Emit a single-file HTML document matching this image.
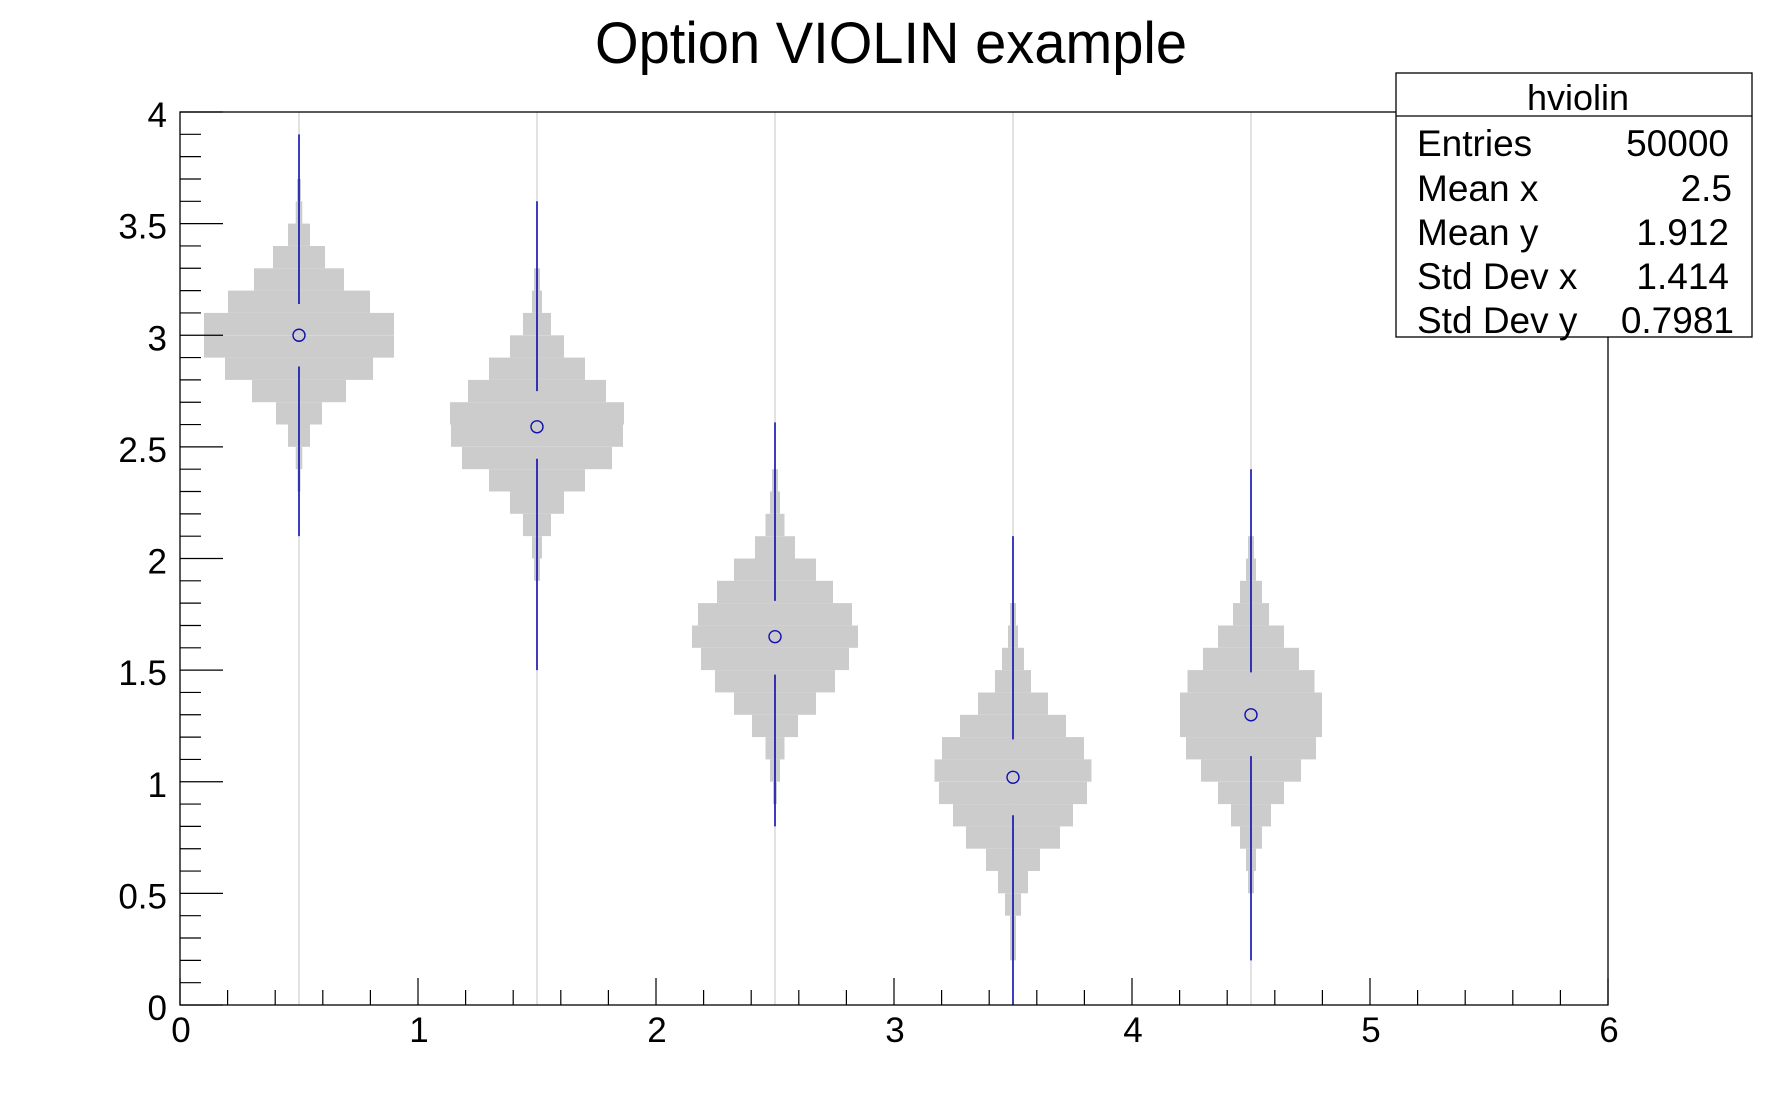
<!DOCTYPE html>
<html><head><meta charset="utf-8"><style>
html,body{margin:0;padding:0;background:#fff;}
svg{display:block;font-family:"Liberation Sans",Arial,sans-serif;}
</style></head><body>
<svg id="s" width="1788" height="1116" viewBox="0 0 1788 1116" xmlns="http://www.w3.org/2000/svg"></svg>
<script>
const X0=180,X1=1608,Y0=1005,Y1=112;
const ux=(X1-X0)/6, uy=(Y0-Y1)/4;
const px=v=>X0+v*ux, py=v=>Y0-v*uy;
let o='<rect width="1788" height="1116" fill="#fff"/>';
for(let i=0;i<5;i++){const x=px(i+0.5);o+=`<line x1="${x}" y1="${Y1}" x2="${x}" y2="${Y0}" stroke="#cfcfcf" stroke-width="1.2"/>`;}
const V=[
 {c:0.5,b:[[3.6,3.7,2],[3.5,3.6,3.3],[3.4,3.5,11],[3.3,3.4,26],[3.2,3.3,45],[3.1,3.2,71],[3.0,3.1,95],[2.9,3.0,95],[2.8,2.9,74],[2.7,2.8,47],[2.6,2.7,23],[2.5,2.6,11],[2.4,2.5,3.3],[2.3,2.4,1.5]],l:[3.9,3.14,2.86,2.1],m:3.0},
 {c:1.5,b:[[3.2,3.3,3],[3.1,3.2,5],[3.0,3.1,14],[2.9,3.0,27],[2.8,2.9,48],[2.7,2.8,69],[2.6,2.7,87],[2.5,2.6,86],[2.4,2.5,75],[2.3,2.4,48],[2.2,2.3,27],[2.1,2.2,14],[2.0,2.1,5],[1.9,2.0,3]],l:[3.6,2.75,2.447,1.5],m:2.59},
 {c:2.5,b:[[2.3,2.4,3],[2.2,2.3,5],[2.1,2.2,9.5],[2.0,2.1,20],[1.9,2.0,41],[1.8,1.9,58],[1.7,1.8,77],[1.6,1.7,83],[1.5,1.6,74],[1.4,1.5,60],[1.3,1.4,41],[1.2,1.3,23],[1.1,1.2,9.5],[1.0,1.1,5],[0.9,1.0,2]],l:[2.61,1.81,1.48,0.8],m:1.65},
 {c:3.5,b:[[1.7,1.8,3],[1.6,1.7,5],[1.5,1.6,11],[1.4,1.5,18],[1.3,1.4,35],[1.2,1.3,53],[1.1,1.2,71],[1.0,1.1,78.5],[0.9,1.0,74],[0.8,0.9,60],[0.7,0.8,47],[0.6,0.7,27],[0.5,0.6,15],[0.4,0.5,8],[0.2,0.4,3]],l:[2.1,1.19,0.85,0.0],m:1.02},
 {c:4.5,b:[[2.0,2.1,3],[1.9,2.0,5],[1.8,1.9,11],[1.7,1.8,18],[1.6,1.7,33],[1.5,1.6,48],[1.4,1.5,63.5],[1.2,1.4,71],[1.1,1.2,65],[1.0,1.1,50],[0.9,1.0,33],[0.8,0.9,20],[0.7,0.8,11],[0.6,0.7,5],[0.5,0.6,3]],l:[2.4,1.49,1.115,0.2],m:1.30}
];
for(const v of V){
 const cx=px(v.c);
 for(const [a,b,w] of v.b){const y=py(b),h=py(a)-py(b);o+=`<rect x="${(cx-w).toFixed(1)}" y="${y.toFixed(1)}" width="${(2*w).toFixed(1)}" height="${h.toFixed(1)}" fill="#cccccc"/>`;}
 const L=v.l;
 o+=`<line x1="${cx}" y1="${py(L[0])}" x2="${cx}" y2="${py(L[1])}" stroke="#0000a8" stroke-width="1.5"/>`;
 o+=`<line x1="${cx}" y1="${py(L[2])}" x2="${cx}" y2="${py(L[3])}" stroke="#0000a8" stroke-width="1.5"/>`;
 o+=`<circle cx="${cx}" cy="${py(v.m)}" r="6" fill="none" stroke="#1010b0" stroke-width="1.4"/>`;
}
o+=`<rect x="${X0}" y="${Y1}" width="${X1-X0}" height="${Y0-Y1}" fill="none" stroke="#000" stroke-width="1.3"/>`;
for(let i=0;i<=40;i++){const y=py(i/10);const L=i%5==0?43:21;o+=`<line x1="${X0}" y1="${y}" x2="${X0+L}" y2="${y}" stroke="#000" stroke-width="1.2"/>`;}
const yl=['0','0.5','1','1.5','2','2.5','3','3.5','4'];
yl.forEach((t,i)=>{o+=`<text x="167" y="${py(i*0.5)+15}" font-size="35" text-anchor="end">${t}</text>`;});
for(let i=0;i<=30;i++){const x=px(i/5);const L=i%5==0?27:15;o+=`<line x1="${x}" y1="${Y0}" x2="${x}" y2="${Y0-L}" stroke="#000" stroke-width="1.2"/>`;}
for(let i=0;i<=6;i++){o+=`<text x="${px(i)+1}" y="1042" font-size="35" text-anchor="middle">${i}</text>`;}
o+=`<text x="891" y="63" font-size="58" text-anchor="middle" textLength="592" lengthAdjust="spacingAndGlyphs">Option VIOLIN example</text>`;
o+=`<rect x="1396" y="73" width="356" height="264" fill="#fff" stroke="#000" stroke-width="1.3"/>`;
o+=`<line x1="1396" y1="116" x2="1752" y2="116" stroke="#000" stroke-width="1.3"/>`;
o+=`<text x="1578" y="110" font-size="36" text-anchor="middle">hviolin</text>`;
const rows=[['Entries','50000',156,1729],['Mean x','2.5',201,1732],['Mean y','1.912',245,1729],['Std Dev x','1.414',289,1729],['Std Dev y','0.7981',333,1734]];
for(const [a,b,y,r] of rows){o+=`<text x="1417" y="${y}" font-size="37">${a}</text><text x="${r}" y="${y}" font-size="37" text-anchor="end">${b}</text>`;}
document.getElementById('s').innerHTML=o;
</script>
</body></html>
